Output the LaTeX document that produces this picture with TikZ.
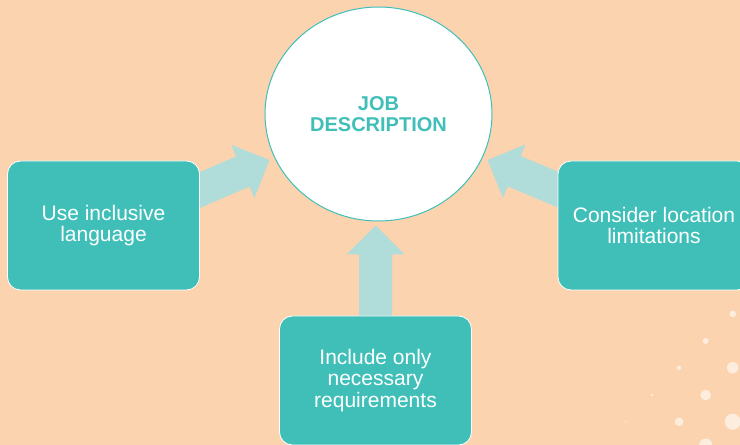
\documentclass[tikz,border=0pt]{standalone}
\usepackage{fontspec}
\setmainfont{Liberation Sans}
\usetikzlibrary{calc}
\usetikzlibrary{shapes.geometric}
\usepackage{xcolor}

\definecolor{peach}{HTML}{FCD3AF}
\definecolor{boxteal}{HTML}{40BFB9}
\definecolor{arrowteal}{HTML}{B0DCD9}

\pgfdeclarelayer{back}
\pgfsetlayers{back,main}

\tikzset{
  box/.style={rectangle, rounded corners=13pt, fill=boxteal, draw=white, line width=0.8pt,
    minimum width=192pt, minimum height=129pt, text=white, align=center,
    font=\fontsize{21}{21.5}\selectfont},
  job/.style={ellipse, fill=white, draw=boxteal, line width=1pt, inner sep=0pt,
    minimum width=227pt, minimum height=214pt, text=boxteal, align=center,
    font=\bfseries\fontsize{20}{20.5}\selectfont},
  arrowbody/.style={fill=arrowteal},
  dot/.style={fill=white, opacity=0.6}
}

% block arrow from #1 (box side) to #2 (tip)
\newcommand{\blockarrow}[2]{%
  \coordinate (ta) at ($(#2)!1.3!(#1)$);
  \coordinate (hb) at ($(#2)!29pt!(#1)$);
  \fill[arrowbody] ($(ta)!16.5pt!90:(#2)$) -- ($(hb)!16.5pt!-90:(#1)$) -- ($(hb)!29pt!-90:(#1)$)
    -- (#2) -- ($(hb)!29pt!90:(#1)$) -- ($(hb)!16.5pt!90:(#1)$) -- ($(ta)!16.5pt!-90:(#2)$) -- cycle;
}

\begin{document}
\begin{tikzpicture}[x=1pt,y=1pt]
        \useasboundingbox (0,0) rectangle (740,445);

        % Nodes
        \node[job] (job) at (378.5,331) {JOB\\DESCRIPTION};
        \node[box] (use) at (103.5,219.5) {Use inclusive\\language};
        \node[box] (loc) at (654,219.5) {Consider location\\limitations};
        \node[box] (req) at (375.5,64.5) {Include only\\necessary\\requirements};

        \begin{pgfonlayer}{back}
          % Background
          \fill[peach] (0,0) rectangle (740,445);

          % Dots
          \foreach \x/\y/\r in {732.7/131/3.3, 705.7/104/3, 732.7/77.3/5.7, 679/77.3/2.2,
                                705.7/50/5.3, 652/50/1.3, 732.7/23.3/8, 679/23.3/4.3,
                                705.7/0/6.5, 625.5/23.3/0.8}
          {
            \fill[dot] (\x,\y) circle (\r);
          }

          % Arrows
          \coordinate (usetail) at ($(use.east)+(0,35.5)$);
          \coordinate (usetip) at ($(job.west)+(5,-46)$);
          \blockarrow{usetail}{usetip}

          \coordinate (loctail) at ($(loc.west)+(0,36)$);
          \coordinate (loctip) at ($(job.east)+(-5,-46)$);
          \blockarrow{loctail}{loctip}

          \coordinate (reqtip) at ($(req.north|-job.south)+(0,-4)$);
          \blockarrow{req.north}{reqtip}
        \end{pgfonlayer}
\end{tikzpicture}
\end{document}
